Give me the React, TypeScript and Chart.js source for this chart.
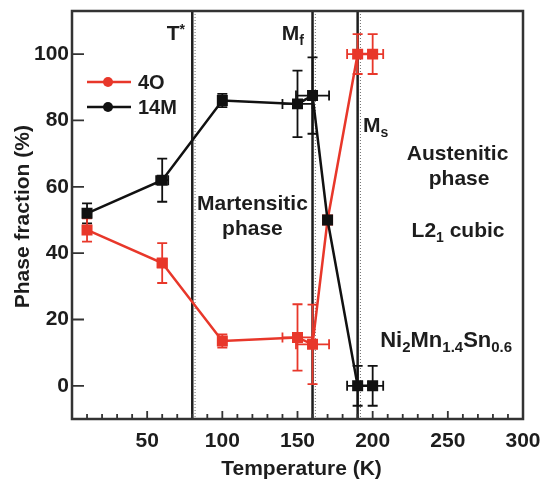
import React, { useEffect, useRef } from "react";
import { Chart, registerables } from "chart.js";

Chart.register(...registerables);

// ---- data ----
const temps14M = [10, 60, 100, 150, 160, 170, 190, 200];
const frac14M = [52, 62, 86, 85, 87.5, 50, 0, 0];
const xErr14M = [0, 4, 0, 10, 11, 0, 7, 7];
const yErr14M = [3, 6.5, 2, 10, 11.5, 0, 6, 6];

const temps4O = [10, 60, 100, 150, 160, 170, 190, 200];
const frac4O = [47, 37, 13.5, 14.6, 12.5, 50, 100, 100];
const xErr4O = [0, 3, 0, 10, 11, 0, 7, 7];
const yErr4O = [3.5, 6, 2, 10, 12, 0, 6, 6];

const transitionTemps = [80, 160, 190];
const xTickValues = [50, 100, 150, 200, 250, 300];
const yTickValues = [0, 20, 40, 60, 80, 100];
const xMinorTicks = [10, 20, 30, 40, 50, 60, 70, 80, 90, 100, 110, 120, 130, 140, 150, 160, 170, 180, 190, 200, 210, 220, 230, 240, 250, 260, 270, 280, 290];

const seriesNames = ["4O", "14M"];

const FONT = '"Liberation Sans", Arial, Helvetica, sans-serif';
const INK = "#1d1d1d";
const RED = "#e8372a";
const BLACK = "#111111";

type Seg = { t: string; size: number; dy?: number };

function drawRich(ctx: CanvasRenderingContext2D, segs: Seg[], x: number, y: number, align: "left" | "center") {
  let total = 0;
  const widths = segs.map((s) => {
    ctx.font = `bold ${s.size}px ${FONT}`;
    const w = ctx.measureText(s.t).width;
    total += w;
    return w;
  });
  let cx = align === "center" ? x - total / 2 : x;
  ctx.textAlign = "left";
  ctx.textBaseline = "alphabetic";
  segs.forEach((s, i) => {
    ctx.font = `bold ${s.size}px ${FONT}`;
    ctx.fillText(s.t, cx, y + (s.dy || 0));
    cx += widths[i];
  });
}

const decorPlugin = {
  id: "decor",
  beforeDatasetsDraw(chart: any) {
    const { ctx, chartArea: a, scales } = chart;
    const x = scales.x;
    const y = scales.y;
    ctx.save();
    // transition lines
    transitionTemps.forEach((t) => {
      const px = x.getPixelForValue(t);
      ctx.setLineDash([]);
      ctx.strokeStyle = "#1e1e1e";
      ctx.lineWidth = 2.5;
      ctx.beginPath();
      ctx.moveTo(px, a.top);
      ctx.lineTo(px, a.bottom);
      ctx.stroke();
      ctx.setLineDash([1, 2]);
      ctx.strokeStyle = "rgba(60,60,60,0.75)";
      ctx.lineWidth = 1;
      ctx.beginPath();
      ctx.moveTo(px + 2.8, a.top);
      ctx.lineTo(px + 2.8, a.bottom);
      ctx.stroke();
    });
    ctx.setLineDash([]);
    // error bars
    chart.data.datasets.forEach((ds: any) => {
      ctx.strokeStyle = ds.borderColor;
      ctx.lineWidth = 1.8;
      ds.data.forEach((p: any, i: number) => {
        const px = x.getPixelForValue(p.x);
        const py = y.getPixelForValue(p.y);
        const ye = ds.yErr[i];
        const xe = ds.xErr[i];
        const cap = 5;
        if (ye > 0) {
          const t = y.getPixelForValue(p.y + ye);
          const b = y.getPixelForValue(p.y - ye);
          ctx.beginPath();
          ctx.moveTo(px, t);
          ctx.lineTo(px, b);
          ctx.moveTo(px - cap, t);
          ctx.lineTo(px + cap, t);
          ctx.moveTo(px - cap, b);
          ctx.lineTo(px + cap, b);
          ctx.stroke();
        }
        if (xe > 0) {
          const l = x.getPixelForValue(p.x - xe);
          const r = x.getPixelForValue(p.x + xe);
          ctx.beginPath();
          ctx.moveTo(l, py);
          ctx.lineTo(r, py);
          ctx.moveTo(l, py - cap);
          ctx.lineTo(l, py + cap);
          ctx.moveTo(r, py - cap);
          ctx.lineTo(r, py + cap);
          ctx.stroke();
        }
      });
    });
    ctx.restore();
  },
  afterDraw(chart: any) {
    const { ctx, chartArea: a, scales } = chart;
    const x = scales.x;
    const y = scales.y;
    ctx.save();
    // frame
    ctx.strokeStyle = "#333";
    ctx.lineWidth = 2.5;
    ctx.strokeRect(a.left, a.top, a.right - a.left, a.bottom - a.top);
    // ticks (inward)
    ctx.lineWidth = 1.8;
    ctx.beginPath();
    yTickValues.forEach((v) => {
      const py = y.getPixelForValue(v);
      ctx.moveTo(a.left, py);
      ctx.lineTo(a.left + 12, py);
    });
    xMinorTicks.forEach((v) => {
      const px = x.getPixelForValue(v);
      const len = v % 50 === 0 ? 8 : 5;
      ctx.moveTo(px, a.bottom);
      ctx.lineTo(px, a.bottom - len);
    });
    ctx.stroke();

    ctx.fillStyle = INK;
    // axis titles
    ctx.font = `bold 21px ${FONT}`;
    ctx.textAlign = "center";
    ctx.textBaseline = "alphabetic";
    ctx.fillText("Temperature (K)", (a.left + a.right) / 2 + 4, 475);
    ctx.save();
    ctx.translate(29, y.getPixelForValue(51));
    ctx.rotate(-Math.PI / 2);
    ctx.fillText("Phase fraction (%)", 0, 0);
    ctx.restore();

    // annotations anchored in data coordinates
    drawRich(ctx, [{ t: "T", size: 21 }, { t: "*", size: 14, dy: -6 }], x.getPixelForValue(63), y.getPixelForValue(104.2), "left");
    drawRich(ctx, [{ t: "M", size: 21 }, { t: "f", size: 14, dy: 5 }], x.getPixelForValue(139.5), y.getPixelForValue(104.2), "left");
    drawRich(ctx, [{ t: "M", size: 21 }, { t: "s", size: 14, dy: 5 }], x.getPixelForValue(193.5), y.getPixelForValue(76.4), "left");
    drawRich(ctx, [{ t: "Martensitic", size: 21 }], x.getPixelForValue(120), y.getPixelForValue(52.9), "center");
    drawRich(ctx, [{ t: "phase", size: 21 }], x.getPixelForValue(120), y.getPixelForValue(45.4), "center");
    drawRich(ctx, [{ t: "Austenitic", size: 21 }], x.getPixelForValue(256.5), y.getPixelForValue(68), "center");
    drawRich(ctx, [{ t: "phase", size: 21 }], x.getPixelForValue(257.5), y.getPixelForValue(60.4), "center");
    drawRich(ctx, [{ t: "L2", size: 21 }, { t: "1", size: 14, dy: 5 }, { t: " cubic", size: 21 }], x.getPixelForValue(256.8), y.getPixelForValue(44.8), "center");
    drawRich(
      ctx,
      [
        { t: "Ni", size: 22 },
        { t: "2", size: 15, dy: 5 },
        { t: "Mn", size: 22 },
        { t: "1.4", size: 15, dy: 5 },
        { t: "Sn", size: 22 },
        { t: "0.6", size: 15, dy: 5 },
      ],
      x.getPixelForValue(205),
      y.getPixelForValue(11.7),
      "left"
    );

    // legend
    const legendColors = [RED, BLACK];
    seriesNames.forEach((name, i) => {
      const ly = a.top + 71 + i * 25;
      const lx = a.left + 15;
      ctx.strokeStyle = legendColors[i];
      ctx.fillStyle = legendColors[i];
      ctx.lineWidth = 2.5;
      ctx.beginPath();
      ctx.moveTo(lx, ly);
      ctx.lineTo(lx + 44, ly);
      ctx.stroke();
      ctx.beginPath();
      ctx.arc(lx + 21, ly, 5, 0, Math.PI * 2);
      ctx.fill();
      ctx.fillStyle = INK;
      ctx.font = `bold 20px ${FONT}`;
      ctx.textAlign = "left";
      ctx.textBaseline = "middle";
      ctx.fillText(name, lx + 51, ly + 1);
    });
    ctx.restore();
  },
};

function zeroPad(s: any) {
  s.paddingTop = 0;
  s.paddingBottom = 0;
  s.paddingLeft = 0;
  s.paddingRight = 0;
}

export default function App() {
  const ref = useRef<HTMLCanvasElement | null>(null);
  useEffect(() => {
    if (!ref.current) return;
    const mk = (xs: number[], ys: number[]) => xs.map((v, i) => ({ x: v, y: ys[i] }));
    const tickFont = { family: FONT, size: 21, weight: "bold" as const };
    const chart = new Chart(ref.current, {
      type: "scatter",
      data: {
        datasets: [
          {
            label: seriesNames[1],
            data: mk(temps14M, frac14M),
            showLine: true,
            borderColor: BLACK,
            backgroundColor: BLACK,
            borderWidth: 2.5,
            pointStyle: "rect",
            pointRadius: 6,
            xErr: xErr14M,
            yErr: yErr14M,
          } as any,
          {
            label: seriesNames[0],
            data: mk(temps4O, frac4O),
            showLine: true,
            borderColor: RED,
            backgroundColor: RED,
            borderWidth: 2.5,
            pointStyle: "rect",
            pointRadius: 6,
            xErr: xErr4O,
            yErr: yErr4O,
          } as any,
        ],
      },
      options: {
        animation: false,
        responsive: false,
        devicePixelRatio: 1,
        layout: { padding: { top: 11, right: 18, left: 0, bottom: 0 } },
        plugins: { legend: { display: false }, tooltip: { enabled: false } },
        scales: {
          x: {
            type: "linear",
            min: 0,
            max: 300,
            afterBuildTicks: (s: any) => {
              s.ticks = xTickValues.map((v) => ({ value: v }));
            },
            afterFit: (s: any) => {
              s.height = 65;
              zeroPad(s);
            },
            grid: { display: false, drawTicks: false },
            border: { display: false },
            ticks: { font: tickFont, color: INK, padding: 10, maxRotation: 0, autoSkip: false },
          },
          y: {
            type: "linear",
            min: -10,
            max: 113,
            afterBuildTicks: (s: any) => {
              s.ticks = yTickValues.map((v) => ({ value: v }));
            },
            afterFit: (s: any) => {
              s.width = 72;
              zeroPad(s);
            },
            grid: { display: false, drawTicks: false },
            border: { display: false },
            ticks: { font: tickFont, color: INK, padding: 3, autoSkip: false },
          },
        },
      },
      plugins: [decorPlugin],
    });
    return () => chart.destroy();
  }, []);
  return (
    <div style={{ position: "fixed", left: 0, top: 0, width: 541, height: 484, background: "#fff" }}>
      <canvas ref={ref} width={541} height={484} />
    </div>
  );
}
